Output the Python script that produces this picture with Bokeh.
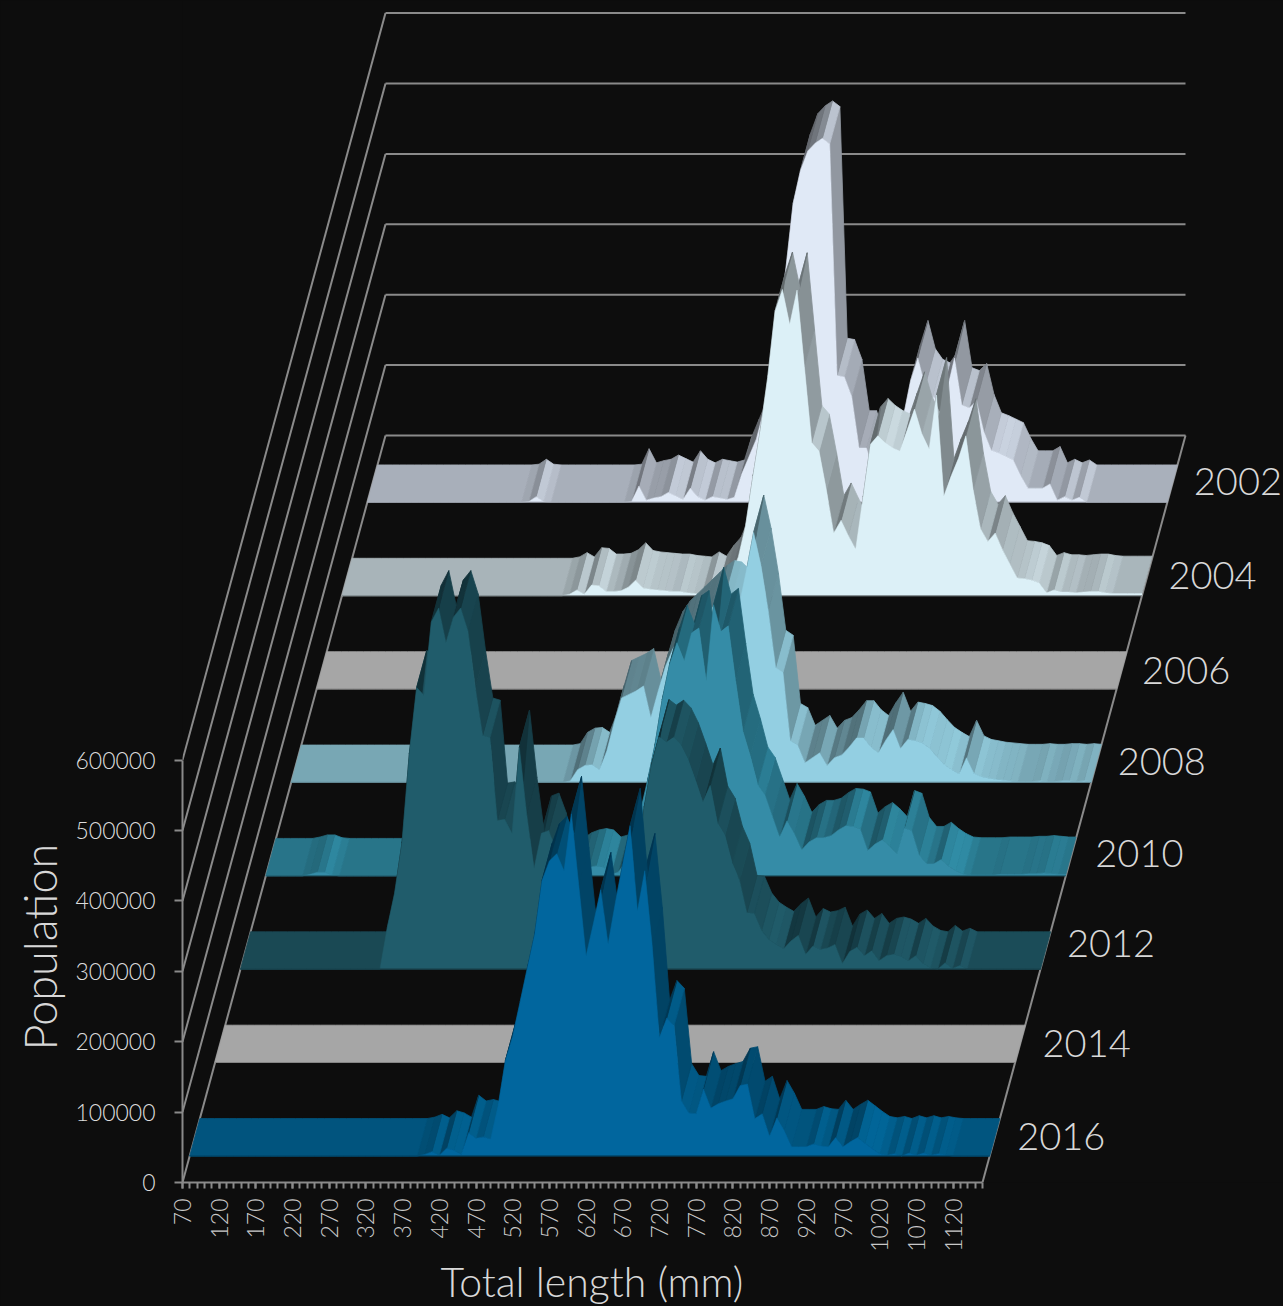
from math import pi, exp, tanh
from bokeh.plotting import figure
from bokeh.models import Range1d, FixedTicker, PrintfTickFormatter, Title
from bokeh.core.properties import value
from bokeh.embed import file_html
from bokeh.resources import INLINE

# ---- data (population in thousands, one value per 10 mm class, 70 .. 1160 mm) ----
years = ["2016", "2014", "2012", "2010", "2008", "2006", "2004", "2002"]
y_ticks = [0, 100000, 200000, 300000, 400000, 500000, 600000]
x_major = [70, 120, 170, 220, 270, 320, 370, 420, 470, 520, 570, 620, 670, 720, 770, 820, 870, 920, 970, 1020, 1070, 1120]
lengths = [70, 80, 90, 100, 110, 120, 130, 140, 150, 160,
           170, 180, 190, 200, 210, 220, 230, 240, 250, 260,
           270, 280, 290, 300, 310, 320, 330, 340, 350, 360,
           370, 380, 390, 400, 410, 420, 430, 440, 450, 460,
           470, 480, 490, 500, 510, 520, 530, 540, 550, 560,
           570, 580, 590, 600, 610, 620, 630, 640, 650, 660,
           670, 680, 690, 700, 710, 720, 730, 740, 750, 760,
           770, 780, 790, 800, 810, 820, 830, 840, 850, 860,
           870, 880, 890, 900, 910, 920, 930, 940, 950, 960,
           970, 980, 990, 1000, 1010, 1020, 1030, 1040, 1050, 1060,
           1070, 1080, 1090, 1100, 1110, 1120, 1130, 1140, 1150, 1160]

pop_2016 = [0, 0, 0, 0, 0, 0, 0, 0, 0, 0,
            0, 0, 0, 0, 0, 0, 0, 0, 0, 0,
            0, 0, 0, 0, 0, 0, 0, 0, 0, 0,
            0, 0, 2, 6, 1, 11, 8, 2, 33, 25,
            27, 24, 70, 135, 170, 218, 267, 315, 391, 419,
            429, 405, 486, 385, 284, 330, 378, 301, 360, 415,
            469, 348, 405, 300, 168, 196, 185, 78, 61, 60,
            95, 68, 74, 78, 81, 100, 102, 53, 60, 28,
            54, 36, 13, 13, 13, 17, 14, 13, 26, 13,
            20, 26, 18, 10, 3, 1, 3, 0, 4, 1,
            4, 1, 3, 1, 0, 0, 0, 0, 0, 0]
pop_2014 = [0, 0, 0, 0, 0, 0, 0, 0, 0, 0,
            0, 0, 0, 0, 0, 0, 0, 0, 0, 0,
            0, 0, 0, 0, 0, 0, 0, 0, 0, 0,
            0, 0, 0, 0, 0, 0, 0, 0, 0, 0,
            0, 0, 0, 0, 0, 0, 0, 0, 0, 0,
            0, 0, 0, 0, 0, 0, 0, 0, 0, 0,
            0, 0, 0, 0, 0, 0, 0, 0, 0, 0,
            0, 0, 0, 0, 0, 0, 0, 0, 0, 0,
            0, 0, 0, 0, 0, 0, 0, 0, 0, 0,
            0, 0, 0, 0, 0, 0, 0, 0, 0, 0,
            0, 0, 0, 0, 0, 0, 0, 0, 0, 0]
pop_2012 = [0, 0, 0, 0, 0, 0, 0, 0, 0, 0,
            0, 0, 0, 0, 0, 0, 0, 0, 0, 0,
            59, 108, 179, 306, 400, 389, 493, 513, 464, 500,
            513, 480, 400, 332, 329, 211, 213, 193, 315, 220,
            143, 193, 197, 169, 120, 90, 60, 30, 25, 20,
            20, 20, 40, 80, 140, 230, 290, 330, 322, 329,
            318, 297, 268, 237, 261, 207, 190, 150, 126, 80,
            79, 55, 42, 35, 29, 40, 48, 21, 33, 28,
            30, 35, 8, 25, 31, 19, 26, 12, 19, 21,
            18, 12, 19, 8, 2, 0, 9, 1, 5, 0,
            0, 0, 0, 0, 0, 0, 0, 0, 0, 0]
pop_2010 = [0, 0, 0, 0, 0, 0, 2, 5, 5, 1,
            0, 0, 0, 0, 0, 0, 0, 0, 0, 0,
            0, 0, 0, 0, 0, 0, 0, 0, 0, 0,
            0, 0, 0, 0, 0, 0, 0, 0, 0, 0,
            0, 0, 1, 8, 12, 14, 12, 2, 5, 20,
            50, 90, 135, 185, 250, 300, 331, 305, 345, 352,
            277, 385, 347, 355, 277, 205, 170, 130, 115, 85,
            55, 78, 60, 37, 48, 54, 54, 57, 65, 71,
            70, 66, 36, 45, 51, 42, 31, 68, 64, 30,
            17, 17, 23, 14, 7, 2, 1, 1, 1, 1,
            2, 2, 2, 2, 3, 3, 4, 3, 2, 2]
pop_2008 = [0, 0, 0, 0, 0, 0, 0, 0, 0, 0,
            0, 0, 0, 0, 0, 0, 0, 0, 0, 0,
            0, 0, 0, 0, 0, 0, 0, 0, 0, 0,
            0, 0, 0, 0, 0, 0, 0, 0, 2, 18,
            24, 25, 18, 45, 85, 120, 125, 130, 137, 92,
            130, 165, 190, 205, 215, 225, 235, 245, 255, 262,
            260, 250, 300, 355, 308, 244, 163, 156, 59, 53,
            28, 35, 42, 24, 35, 39, 50, 63, 63, 50,
            42, 60, 75, 48, 61, 59, 56, 48, 36, 25,
            18, 12, 35, 13, 8, 6, 4, 3, 2, 1,
            1, 1, 2, 1, 1, 2, 2, 1, 2, 1]
pop_2006 = [0, 0, 0, 0, 0, 0, 0, 0, 0, 0,
            0, 0, 0, 0, 0, 0, 0, 0, 0, 0,
            0, 0, 0, 0, 0, 0, 0, 0, 0, 0,
            0, 0, 0, 0, 0, 0, 0, 0, 0, 0,
            0, 0, 0, 0, 0, 0, 0, 0, 0, 0,
            0, 0, 0, 0, 0, 0, 0, 0, 0, 0,
            0, 0, 0, 0, 0, 0, 0, 0, 0, 0,
            0, 0, 0, 0, 0, 0, 0, 0, 0, 0,
            0, 0, 0, 0, 0, 0, 0, 0, 0, 0,
            0, 0, 0, 0, 0, 0, 0, 0, 0, 0,
            0, 0, 0, 0, 0, 0, 0, 0, 0, 0]
pop_2004 = [0, 0, 0, 0, 0, 0, 0, 0, 0, 0,
            0, 0, 0, 0, 0, 0, 0, 0, 0, 0,
            0, 0, 0, 0, 0, 0, 0, 0, 0, 0,
            0, 2, 8, 2, 15, 14, 6, 6, 7, 12,
            22, 11, 9, 8, 7, 6, 6, 4, 3, 2,
            9, 3, 18, 30, 55, 100, 170, 235, 310, 404,
            435, 385, 434, 325, 217, 205, 150, 89, 107, 85,
            66, 140, 215, 227, 217, 210, 205, 235, 265, 230,
            208, 285, 141, 170, 195, 227, 150, 95, 77, 89,
            65, 45, 25, 24, 22, 18, 4, 8, 5, 5,
            4, 5, 6, 6, 4, 3, 3, 3, 3, 3]
pop_2002 = [0, 0, 0, 0, 0, 0, 0, 0, 0, 0,
            0, 0, 0, 0, 0, 0, 0, 0, 0, 0,
            0, 0, 1, 8, 1, 0, 0, 0, 0, 0,
            0, 0, 0, 0, 0, 0, 1, 23, 3, 6,
            8, 14, 9, 4, 20, 8, 3, 8, 6, 4,
            7, 40, 65, 90, 130, 200, 270, 330, 424, 471,
            499, 510, 517, 509, 180, 178, 150, 77, 77, 45,
            45, 50, 70, 120, 172, 205, 165, 150, 145, 160,
            205, 138, 134, 144, 100, 74, 70, 65, 60, 38,
            20, 20, 20, 26, 3, 8, 3, 7, 0, 0,
            0, 0, 0, 0, 0, 0, 0, 0, 0, 0]
series = [pop_2016, pop_2014, pop_2012, pop_2010, pop_2008, pop_2006, pop_2004, pop_2002]
front_cols = ["#01669e", "#a6a6a6", "#205c6b", "#358ca7", "#93cfe2", "#a6a6a6", "#dcf0f7", "#e0e9f6"]
top_cols = ["#01557f", "#a6a6a6", "#1b4c58", "#28758a", "#79a8b6", "#a6a6a6", "#a9b6bb", "#a9b0bb"]
label_dx = [22, 22, 21, 24, 21, 20, 21, 21]
label_dy = [1, 1, -6, -2, -1, 2, 0, -1]
for s in series:
    assert len(s) == len(lengths)

# ---- layout constants ----
BG = "#0d0d0d"
GRID = "#8a8a8a"
TXT = "#d8d8d8"
FONT = "Lato Light"
W, H = 1283, 1306
L_B, B_B = 182, 124
KX = 800 / 1090        # px per mm
KY = 70.4 / 100000     # px per person
SLOTS = 8
DEPTH_PX = (203, 747)
FRONT, BACK = 0.285, 0.685
DX = DEPTH_PX[0] / KX / SLOTS   # mm per depth slot
DY = DEPTH_PX[1] / KY / SLOTS   # people per depth slot


def proj(length, depth, pop):
    return length + DX * depth, pop + DY * depth


def shaded(hexcol, f):
    rgb = [int(hexcol[i:i + 2], 16) for i in (1, 3, 5)]
    return "#%02x%02x%02x" % tuple(max(0, min(255, round(c * f))) for c in rgb)


def seg_factor(dv):
    m = dv * KY  # rise in px over one bin
    if m >= 0:
        return 1 - 0.42 * tanh(m / 7)
    t = -m
    return 1 + 0.22 * (t / 5) * exp(1 - t / 5) - 0.22 * (1 - exp(-t / 45))


p = figure(width=W, height=H, output_backend="svg", toolbar_location=None,
           x_range=Range1d(70, 70 + (W - L_B) / KX),
           y_range=Range1d(0, (H - B_B) / KY),
           background_fill_color=BG, border_fill_color=BG,
           min_border_left=L_B, min_border_bottom=B_B, min_border_top=0, min_border_right=0)
p.outline_line_color = None
p.grid.visible = False

# axes
xa, ya = p.xaxis[0], p.yaxis[0]
xa.ticker = FixedTicker(ticks=x_major, minor_ticks=lengths)
xa.bounds = (lengths[0], lengths[-1])
xa.major_label_orientation = pi / 2
xa.major_label_text_font = FONT
xa.major_label_text_font_size = "23px"
xa.major_label_text_color = "#c8c8c8"
xa.major_label_standoff = 10
ya.ticker = FixedTicker(ticks=y_ticks)
ya.bounds = (0, y_ticks[-1])
ya.formatter = PrintfTickFormatter(format="%d")
ya.major_label_text_font = FONT
ya.major_label_text_font_size = "23px"
ya.major_label_text_color = "#dcdcdc"
ya.major_label_standoff = 19
for a in (xa, ya):
    a.axis_line_color = GRID
    a.axis_line_width = 2
    a.major_tick_line_color = GRID
    a.minor_tick_line_color = GRID
    a.major_tick_line_width = 2
    a.minor_tick_line_width = 2
    a.major_tick_in = 0
    a.minor_tick_in = 0
xa.major_tick_out = 6
xa.minor_tick_out = 6
ya.major_tick_out = 8
ya.minor_tick_out = 0

p.add_layout(Title(text="Total length (mm)", align="left", offset=258, standoff=0, text_color=TXT,
                   text_font=FONT, text_font_size="41px", text_font_style="normal"), "below")
p.add_layout(Title(text="Population", align="left", offset=132, standoff=12, text_color=TXT,
                   text_font=FONT, text_font_size="45px", text_font_style="normal"), "left")

# walls and floor
wx0, wy0, wx1, wy1 = [], [], [], []
for v in y_ticks:
    a = proj(lengths[0], 0, v)
    b = proj(lengths[0], SLOTS, v)
    c = proj(lengths[-1], SLOTS, v)
    wx0 += [a[0], b[0]]; wy0 += [a[1], b[1]]
    wx1 += [b[0], c[0]]; wy1 += [b[1], c[1]]
a = proj(lengths[-1], 0, 0)
b = proj(lengths[-1], SLOTS, 0)
wx0.append(a[0]); wy0.append(a[1]); wx1.append(b[0]); wy1.append(b[1])
p.segment(wx0, wy0, wx1, wy1, line_color=GRID, line_width=2)

# series, back to front
for k in range(len(series) - 1, -1, -1):
    vals = [v * 1000 for v in series[k]]
    n = len(vals)
    seg = [seg_factor(vals[i + 1] - vals[i]) for i in range(n - 1)]
    xs, ys, cols = [], [], []
    d0, d1 = k + FRONT, k + BACK
    i = n - 2
    while i >= 0:
        nb = (seg[max(i - 1, 0)] + seg[min(i + 1, n - 2)]) / 2
        col = shaded(top_cols[k], 0.8 * seg[i] + 0.2 * nb)
        j = i + 1          # right end of the run
        # flat stretches of equal value become one polygon
        while i > 0 and vals[i - 1] == vals[i] == vals[i + 1]:
            i -= 1
        pts = [proj(lengths[q], d0, vals[q]) for q in range(i, j + 1)] + \
              [proj(lengths[q], d1, vals[q]) for q in range(j, i - 1, -1)]
        xs.append([q[0] for q in pts])
        ys.append([q[1] for q in pts])
        cols.append(col)
        i -= 1
    p.patches(xs, ys, fill_color=cols, line_color=cols, fill_alpha=1, line_alpha=1, line_width=0.8)
    if max(vals) > 0:
        pts = [proj(lengths[0], d0, 0)] + [proj(lengths[i], d0, vals[i]) for i in range(n)] + [proj(lengths[-1], d0, 0)]
        p.patch([q[0] for q in pts], [q[1] for q in pts], fill_color=front_cols[k], line_color=front_cols[k], line_width=0.5)
    base = [proj(lengths[0], d0, 0), proj(lengths[-1], d0, 0)]
    p.line([q[0] for q in base], [q[1] for q in base], line_color=shaded(top_cols[k], 0.8), line_width=1.2)

# year labels along the right floor edge
lx, ly = [], []
for k in range(len(years)):
    q = proj(lengths[-1], k + 0.5, 0)
    lx.append(q[0]); ly.append(q[1])
p.text(lx, ly, text=years, x_offset=label_dx, y_offset=label_dy, text_align="left", text_baseline="middle",
       text_color=TXT, text_font=value(FONT), text_font_size="38px")

html = file_html(p, INLINE)
html = html.replace("</head>", "<style>html,body{background:#0d0d0d;overflow:hidden}</style></head>", 1)
open("out.html", "w").write(html)
